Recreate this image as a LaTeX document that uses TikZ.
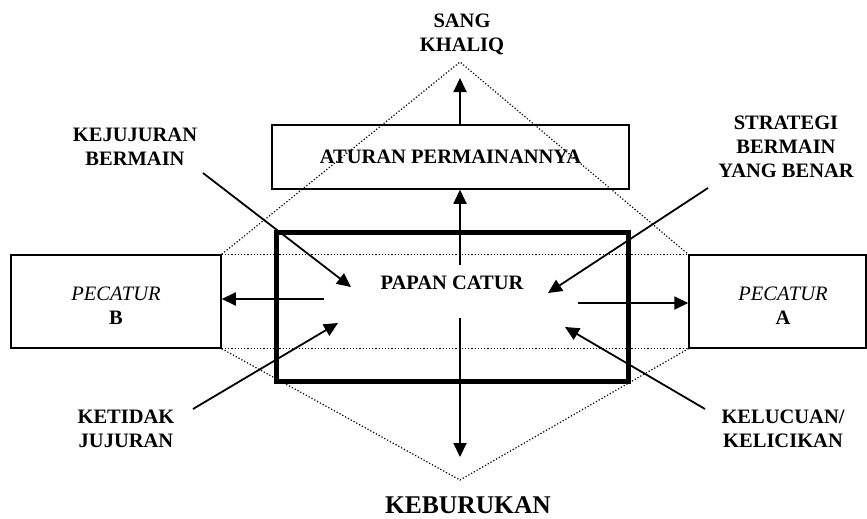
\documentclass[tikz,border=0pt]{standalone}
\usepackage{fontspec}
\setmainfont{Liberation Serif}
\usetikzlibrary{arrows.meta}

\tikzset{
  plainbox/.style={draw, line width=1.5pt, inner sep=0pt},
  boardbox/.style={draw, line width=5pt, inner sep=0pt},
  txt/.style={font=\fontsize{20.5}{24}\selectfont\bfseries, align=center, inner sep=0pt},
  bigtxt/.style={font=\fontsize{25.5}{30}\selectfont\bfseries, inner sep=0pt},
  arr/.style={-{Triangle[length=14pt,width=13pt]}, line width=1.8pt},
  guide/.style={dotted, line width=1.2pt}
}

\begin{document}
\begin{tikzpicture}[x=1pt,y=-1pt]
  \useasboundingbox (0,0) rectangle (867,519);

  % Boxes
  \node[plainbox, minimum width=357pt, minimum height=64pt] (aturan) at (450.5,157) {};
  \node[boardbox, minimum width=352pt, minimum height=149pt] (papan) at (452,306.5) {};
  \node[plainbox, minimum width=210pt, minimum height=93pt] (pecaturB) at (116,301.5) {};
  \node[plainbox, minimum width=177pt, minimum height=93pt] (pecaturA) at (777.5,301.5) {};

  % Dotted outline
  \coordinate (topApex) at (460,62);
  \coordinate (bottomApex) at (460,480);
  \draw[guide] (pecaturB.north east) -- (topApex) -- (pecaturA.north west);
  \draw[guide] (pecaturB.north east) -- (pecaturA.north west);
  \draw[guide] (pecaturB.south east) -- (pecaturA.south west);
  \draw[guide] (pecaturB.south east) -- (bottomApex) -- (pecaturA.south west);

  % Texts
  \node[txt] (aturanText) at (aturan) {ATURAN PERMAINANNYA};
  \node[txt] (papanText) at (452,283) {PAPAN CATUR};
  \node[txt] (pecaturBText) at (116,306) {\textit{\mdseries PECATUR}\\B};
  \node[txt] (pecaturAText) at (783,306) {\textit{\mdseries PECATUR}\\A};
  \node[txt] (khaliq) at (462,34.5) {SANG\\KHALIQ};
  \node[txt] (kejujuran) at (135,146.5) {KEJUJURAN\\BERMAIN};
  \node[txt] (strategi) at (786,147) {STRATEGI\\BERMAIN\\YANG BENAR};
  \node[txt] (ketidak) at (126,428.5) {KETIDAK\\JUJURAN};
  \node[txt] (kelucuan) at (783,428.5) {KELUCUAN/\\KELICIKAN};
  \node[bigtxt] (keburukan) at (468,505) {KEBURUKAN};

  % Arrow ends
  \coordinate (upTip) at (460,78);
  \coordinate (upStart) at (460,265);
  \coordinate (downStart) at (460,318);
  \coordinate (downTip) at (460,457);
  \coordinate (leftStart) at (324,299);
  \coordinate (rightStart) at (578,303);
  \coordinate (kejStart) at (203,173);
  \coordinate (kejTip) at (351,287);
  \coordinate (strStart) at (708,188);
  \coordinate (strTip) at (548,293);
  \coordinate (ketStart) at (193,409);
  \coordinate (ketTip) at (338,323);
  \coordinate (kelStart) at (705,409);
  \coordinate (kelTip) at (565,327);

  % Arrows
  \draw[arr] (aturan.north -| upTip) -- (upTip);
  \draw[arr] (upStart) -- (upStart |- aturan.south);
  \draw[arr] (downStart) -- (downTip);
  \draw[arr] (leftStart) -- (leftStart -| pecaturB.east);
  \draw[arr] (rightStart) -- (rightStart -| pecaturA.west);
  \draw[arr] (kejStart) -- (kejTip);
  \draw[arr] (strStart) -- (strTip);
  \draw[arr] (ketStart) -- (ketTip);
  \draw[arr] (kelStart) -- (kelTip);

\end{tikzpicture}
\end{document}
